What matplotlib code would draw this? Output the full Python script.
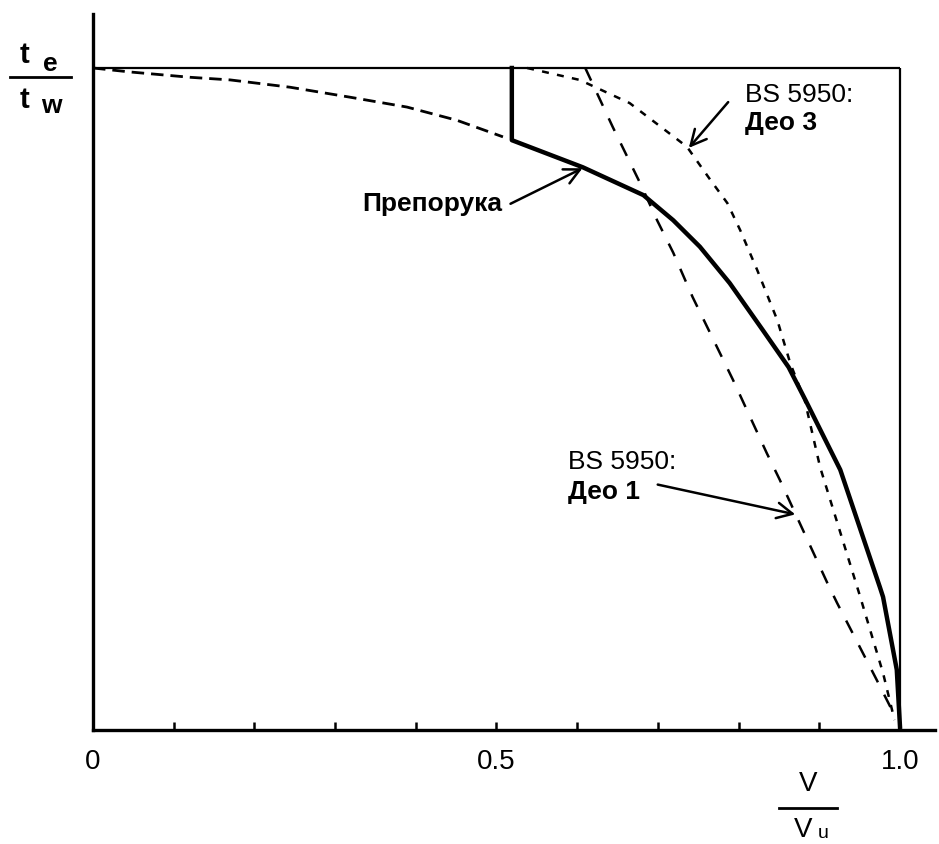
import matplotlib
matplotlib.use("Agg")
import matplotlib.pyplot as plt
from matplotlib.lines import Line2D

plt.rcParams['font.family'] = ['Liberation Sans', 'DejaVu Sans']
plt.rcParams['lines.scale_dashes'] = False

# ---- data ----
x_ticks = [0.0, 0.1, 0.2, 0.3, 0.4, 0.5, 0.6, 0.7, 0.8, 0.9, 1.0]
x_tick_labels = ['0', '', '', '', '', '0.5', '', '', '', '', '1.0']

# Recommendation (solid)
rec_x = [0.519, 0.519, 0.607, 0.682, 0.719, 0.752, 0.789, 0.830, 0.862, 0.883,
         0.926, 0.975, 0.979, 0.996, 1.000]
rec_y = [1.000, 0.891, 0.850, 0.808, 0.770, 0.730, 0.675, 0.604, 0.548, 0.498,
         0.393, 0.216, 0.201, 0.091, 0.005]

# BS 5950 Part 3 (short dashed), left branch
p3a_x = [0.000, 0.046, 0.120, 0.170, 0.244, 0.318, 0.389, 0.451, 0.508]
p3a_y = [1.000, 0.994, 0.986, 0.982, 0.971, 0.956, 0.941, 0.921, 0.896]

# BS 5950 Part 3 (short dashed), right branch
p3b_x = [0.538, 0.603, 0.665, 0.736, 0.765, 0.786, 0.802, 0.823, 0.848, 0.864,
         0.882, 0.901, 0.950, 0.979, 0.991, 0.993]
p3b_y = [1.000, 0.982, 0.947, 0.881, 0.831, 0.796, 0.755, 0.695, 0.619, 0.554,
         0.498, 0.397, 0.204, 0.086, 0.026, 0.015]

# BS 5950 Part 1 (long dashed)
p1_x = [0.610, 0.644, 0.678, 0.699, 0.719, 0.743, 0.761, 0.793, 0.835, 0.851,
        0.910, 0.922, 0.971, 0.988, 0.991]
p1_y = [1.000, 0.911, 0.826, 0.770, 0.721, 0.654, 0.609, 0.529, 0.418, 0.378,
        0.222, 0.192, 0.076, 0.035, 0.023]

W, H = 939, 844
fig = plt.figure(figsize=(W / 100, H / 100), dpi=100)

# axes: x=0 at px 93, x=1 at px 900 ; y=0 at px 730, y=1 at px 68
x0, x1 = 93, 900
y0, y1 = 730, 68
sx = (x1 - x0)
sy = (y0 - y1)
xmax = (935 - x0) / sx
ymax = (y0 - 14) / sy
ax = fig.add_axes([x0 / W, (H - y0) / H, (935 - x0) / W, (y0 - 14) / H])
ax.set_xlim(0, xmax)
ax.set_ylim(0, ymax)
for s in ['top', 'right']:
    ax.spines[s].set_visible(False)
ax.spines['left'].set_linewidth(2.4)
ax.spines['bottom'].set_linewidth(2.4)
ax.set_yticks([])
ax.set_xticks(x_ticks)
ax.set_xticklabels(x_tick_labels, fontsize=20)
ax.tick_params(axis='x', direction='in', length=6, width=1.8, pad=14)

# frame lines (top and right)
ax.plot([0, 1], [1, 1], color='black', lw=1.6, solid_capstyle='butt')
ax.plot([1, 1], [0, 1], color='black', lw=1.6, solid_capstyle='butt')

# curves
ax.plot(rec_x, rec_y, color='black', lw=3.2, solid_joinstyle='round')
ax.plot(p3a_x, p3a_y, color='black', lw=2.0, linestyle=(0, (9, 5)))
ax.plot(p3b_x, p3b_y, color='black', lw=1.8, linestyle=(0, (5, 6)))
ax.plot(p1_x, p1_y, color='black', lw=1.8, linestyle=(0, (10, 10)))

def px(x, y):
    return ((x - x0) / sx, (y0 - y) / sy)

arrow = dict(arrowstyle='->', lw=1.8, color='black', mutation_scale=28)

# Препорука
ax.text(*px(502, 204), 'Препорука', fontsize=19, fontweight='bold',
        ha='right', va='center')
ax.annotate('', xy=px(585, 167), xytext=px(508, 205), arrowprops=arrow)

# BS 5950: Део 3
ax.text(*px(745, 95), 'BS 5950:', fontsize=19, ha='left', va='center')
ax.text(*px(745, 123), 'Део 3', fontsize=19, fontweight='bold', ha='left', va='center')
ax.annotate('', xy=px(687, 150), xytext=px(730, 100), arrowprops=arrow)

# BS 5950: Део 1
ax.text(*px(568, 462), 'BS 5950:', fontsize=19, ha='left', va='center')
ax.text(*px(568, 492), 'Део 1', fontsize=19, fontweight='bold', ha='left', va='center')
ax.annotate('', xy=px(798, 515), xytext=px(655, 484), arrowprops=arrow)

# y label  t_e / t_w
def ft(x, y, s, **kw):
    fig.text(x / W, 1 - y / H, s, **kw)

ft(24, 55, 't', fontsize=21, ha='center', va='center', fontweight='bold')
ft(50, 64, 'e', fontsize=19, ha='center', va='center', fontweight='bold')
ft(24, 100, 't', fontsize=21, ha='center', va='center', fontweight='bold')
ft(51, 106, 'w', fontsize=19, ha='center', va='center', fontweight='bold')
fig.add_artist(Line2D([10 / W, 71 / W], [1 - 77 / H, 1 - 77 / H],
                      color='black', lw=2.0, transform=fig.transFigure))

# x label  V / V_u
ft(808, 784, 'V', fontsize=20, ha='center', va='center')
fig.add_artist(Line2D([779 / W, 837 / W], [1 - 808 / H, 1 - 808 / H],
                      color='black', lw=2.0, transform=fig.transFigure))
ft(803, 830, 'V', fontsize=20, ha='center', va='center')
ft(823, 834, 'u', fontsize=14, ha='center', va='center')

fig.savefig('out.png', dpi=100)
